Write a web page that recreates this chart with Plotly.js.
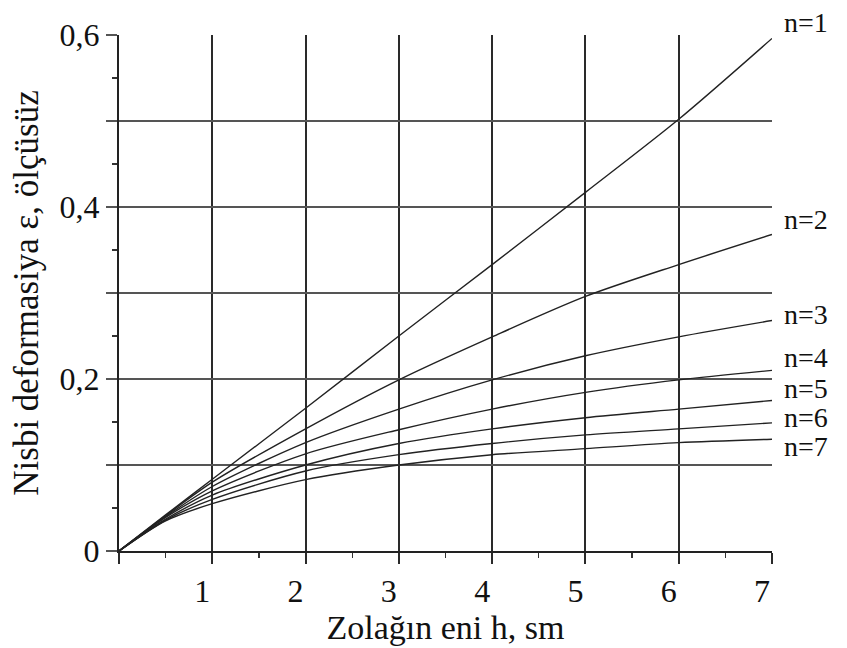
<!DOCTYPE html>
<html>
<head>
<meta charset="utf-8">
<script src="https://cdn.plot.ly/plotly-3.0.1.min.js"></script>
<style>html,body{margin:0;padding:0;background:#fff;}</style>
</head>
<body>
<div id="chart" style="width:847px;height:648px;"></div>
<script>
// Data
var h  = [0, 0.5, 1, 2, 3, 4, 5, 6, 7];
var n1 = [0, 0.042, 0.0835, 0.166, 0.250, 0.333, 0.417, 0.502, 0.596];
var n2 = [0, 0.041, 0.080, 0.142, 0.199, 0.249, 0.296, 0.333, 0.368];
var n3 = [0, 0.040, 0.075, 0.126, 0.165, 0.199, 0.227, 0.249, 0.268];
var n4 = [0, 0.039, 0.070, 0.113, 0.141, 0.165, 0.1845, 0.199, 0.210];
var n5 = [0, 0.037, 0.065, 0.100, 0.125, 0.142, 0.155, 0.165, 0.175];
var n6 = [0, 0.036, 0.060, 0.093, 0.112, 0.125, 0.135, 0.142, 0.149];
var n7 = [0, 0.035, 0.055, 0.083, 0.100, 0.112, 0.119, 0.126, 0.130];
var seriesNames = ["n=1", "n=2", "n=3", "n=4", "n=5", "n=6", "n=7"];
var xTickVals = [0, 1, 2, 3, 4, 5, 6, 7];
var xTickText = ["", "1", "2", "3", "4", "5", "6", "7"];
var yTickVals = [0, 0.1, 0.2, 0.3, 0.4, 0.5, 0.6];
var yTickText = ["0", "", "0,2", "", "0,4", "", "0,6"];

var series = [n1, n2, n3, n4, n5, n6, n7];
var labelShift = [16, 15, 6, 13, 12, 5, -7];
var FONT = '"Liberation Serif", "Times New Roman", serif';
var TXT = '#111';

var traces = series.map(function (s, i) {
  return {
    x: h, y: s, type: 'scatter', mode: 'lines', name: seriesNames[i],
    line: {color: '#222', width: 1.4, shape: 'spline', smoothing: 0.8},
    hoverinfo: 'skip'
  };
});

var annotations = series.map(function (s, i) {
  return {
    x: h[h.length - 1], y: s[s.length - 1], xref: 'x', yref: 'y',
    text: seriesNames[i], showarrow: false, xanchor: 'left', yanchor: 'middle',
    xshift: 10, yshift: labelShift[i],
    font: {family: FONT, size: 28, color: TXT}
  };
});

var layout = {
  width: 847, height: 648,
  margin: {l: 119, r: 75, t: 35, b: 97},
  paper_bgcolor: '#fff', plot_bgcolor: '#fff',
  showlegend: false,
  font: {family: FONT, color: TXT},
  xaxis: {
    range: [0, 7], tickmode: 'array', tickvals: xTickVals, ticktext: xTickText,
    showgrid: true, gridcolor: '#2a2a2a', gridwidth: 2,
    showline: true, linecolor: '#222', linewidth: 2,
    ticks: 'outside', ticklen: 11, tickwidth: 2, tickcolor: '#2a2a2a',
    ticklabelshift: -10,
    minor: {dtick: 0.5, ticks: 'outside', ticklen: 5, tickwidth: 1.2, tickcolor: '#333', showgrid: false},
    tickfont: {family: FONT, size: 32, color: TXT},
    zeroline: false, fixedrange: true,
    title: {text: 'Zolağın eni h, sm', font: {family: FONT, size: 34, color: TXT}, standoff: 4}
  },
  yaxis: {
    range: [0, 0.6], tickmode: 'array', tickvals: yTickVals, ticktext: yTickText,
    showgrid: true, gridcolor: '#555', gridwidth: 2.2,
    showline: true, linecolor: '#222', linewidth: 2,
    ticks: 'outside', ticklen: 11, tickwidth: 2.2, tickcolor: '#555',
    minor: {dtick: 0.05, ticks: 'outside', ticklen: 5, tickwidth: 1.2, tickcolor: '#333', showgrid: false},
    tickfont: {family: FONT, size: 32, color: TXT},
    zeroline: false, fixedrange: true,
    title: {text: 'Nisbi deformasiya ε, ölçüsüz', font: {family: FONT, size: 35, color: TXT}, standoff: 10}
  },
  annotations: annotations
};

Plotly.newPlot('chart', traces, layout, {displayModeBar: false, staticPlot: true});
</script>
</body>
</html>
